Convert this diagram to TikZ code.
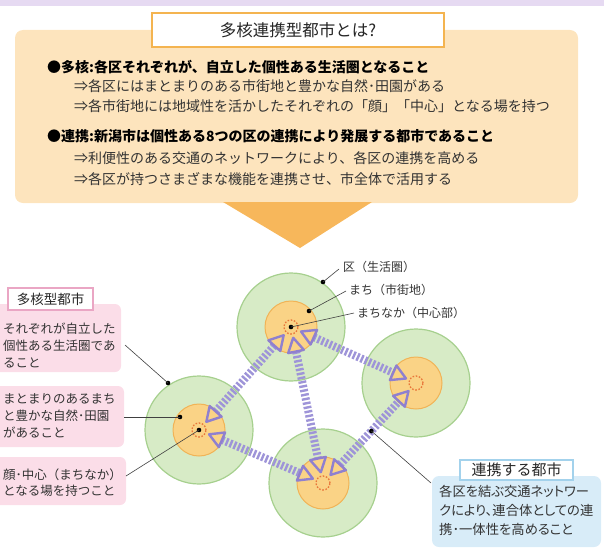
\documentclass[tikz,border=0pt]{standalone}
\usepackage{fontspec}
\setmainfont{Noto Sans CJK JP}
\newfontfamily\paltfont{Noto Sans CJK JP}[RawFeature=+palt]
\usetikzlibrary{calc}
\definecolor{band}{HTML}{E6DAF2}
\definecolor{obox}{HTML}{FDE4BD}
\definecolor{oborder}{HTML}{F4B450}
\definecolor{otri}{HTML}{F7B75B}
\definecolor{gfill}{HTML}{D7EBC6}
\definecolor{gline}{HTML}{A6D08E}
\definecolor{ydisc}{HTML}{FAD386}
\definecolor{yline}{HTML}{F1B356}
\definecolor{ringc}{HTML}{E8763A}
\definecolor{purp}{HTML}{9E94D8}
\definecolor{purpd}{HTML}{8F80CF}
\definecolor{pinkf}{HTML}{FBDDE8}
\definecolor{pinkl}{HTML}{EAA6C4}
\definecolor{bluef}{HTML}{D8ECF8}
\definecolor{bluel}{HTML}{A3D2EC}
\definecolor{txt}{HTML}{333333}
\begin{document}
\begin{tikzpicture}[x=1pt,y=-1pt,
  mline/.style={anchor=west,inner sep=0pt,text=txt,font=\fontsize{14}{16}\selectfont},
  bline/.style={anchor=west,inner sep=0pt,text=black,font=\fontsize{14}{16}\selectfont\bfseries},
  pline/.style={anchor=west,inner sep=0pt,text=txt,font=\fontsize{12.5}{14}\selectfont},
  bluetext/.style={anchor=west,inner sep=0pt,text=txt,font=\paltfont\fontsize{13.3}{15}\selectfont},
  cline/.style={anchor=west,inner sep=0pt,text=txt,font=\fontsize{12}{14}\selectfont},
  hatch/.style={purp,line width=8pt,dash pattern=on 2.4pt off 1.9pt},
  tri/.style={purpd,line width=2.4pt,line join=round},
  lead/.style={draw=black!75,line width=0.6pt},
  dotc/.style={fill=black}
]
\useasboundingbox (0,0) rectangle (604,551);
% top band
\fill[band] (0,0) rectangle (604,6);
% orange box
\fill[obox,rounded corners=8pt] (15,30) rectangle (578,203);
\fill[otri] (223,202) -- (372,202) -- (300,248) -- cycle;
\node[draw=oborder,fill=white,line width=1.5pt,minimum width=292pt,minimum height=34pt,inner sep=0pt,
  font=\fontsize{16.5}{18}\selectfont,text=black!85] (title) at (298,30) {多核連携型都市とは?};
\node[bline] (l1) at (47,67) {●多核:各区それぞれが、自立した個性ある生活圏となること};
\node[mline] (l2) at (74,86) {⇒各区にはまとまりのある市街地と豊かな自然･田園がある};
\node[mline] (l3) at (74,106) {⇒各市街地には地域性を活かしたそれぞれの「顔」「中心」となる場を持つ};
\node[bline] (l4) at (47,136) {●連携:新潟市は個性ある8つの区の連携により発展する都市であること};
\node[mline] (l5) at (74,158) {⇒利便性のある交通のネットワークにより、各区の連携を高める};
\node[mline] (l6) at (74,179) {⇒各区が持つさまざまな機能を連携させ、市全体で活用する};

% circles
\coordinate (A) at (291,327);
\coordinate (B) at (199,430);
\coordinate (C) at (323,483);
\coordinate (D) at (416,383);
\foreach \c in {A,B,C,D}{
  \filldraw[fill=gfill,draw=gline,line width=1.2pt] (\c) circle[radius=54pt];
  \filldraw[fill=ydisc,draw=yline,line width=1pt] (\c) circle[radius=26pt];
  \draw[ringc,line width=1.3pt,dash pattern=on 1.6pt off 1.6pt] (\c) circle[radius=7pt];
}
% network
\foreach \p/\q in {A/B,A/C,A/D,B/C,C/D}
  \draw[hatch] ($(\p)!25pt!(\q)$) -- ($(\q)!25pt!(\p)$);
\foreach \p/\q in {A/B,B/A,A/C,C/A,A/D,D/A,B/C,C/B,C/D,D/C}{
  \coordinate (t) at ($(\p)!11pt!(\q)$);
  \coordinate (m) at ($(\p)!25pt!(\q)$);
  \draw[tri] (t) -- ($(m)!8pt!90:(t)$) -- ($(m)!8pt!-90:(t)$) -- cycle;
}
% dots
\coordinate (dKu) at (323,282);
\coordinate (dMachi) at (309,311);
\coordinate (dB1) at (168,383);
\coordinate (dB2) at (180,417);
\coordinate (dNet) at ($(C)!0.52!(D)$);
\foreach \d in {A,B,dKu,dMachi,dB1,dB2,dNet}
  \fill[dotc] (\d) circle[radius=2.3pt];

% circle labels
\node[cline] (lKu) at (343,267) {区（生活圏）};
\node[cline] (lMachi) at (349,290) {まち（市街地）};
\node[cline] (lNaka) at (357,313) {まちなか（中心部）};
\draw[lead] (dKu) -- ($(lKu.west)+(-4,2)$);
\draw[lead] (dMachi) -- ($(lMachi.west)+(-3,1)$);
\draw[lead] (A) -- ($(lNaka.west)+(-3,0)$);

% pink boxes
\fill[pinkf,rounded corners=6pt] (-10,304) rectangle (121,372);
\fill[pinkf,rounded corners=6pt] (-10,386) rectangle (124,447);
\fill[pinkf,rounded corners=6pt] (-10,457) rectangle (126,505);
\node[draw=pinkl,fill=white,line width=1.2pt,minimum width=85pt,minimum height=22pt,inner sep=0pt,
  font=\fontsize{13.5}{15}\selectfont,text=black!85] (ptitle) at (50.5,299) {多核型都市};
\node[pline] (p1a) at (3,329) {それぞれが自立した};
\node[pline] (p1b) at (3,346) {個性ある生活圏であ};
\node[pline] (p1c) at (3,363) {ること};
\node[pline] (p2a) at (3,399) {まとまりのあるまち};
\node[pline] (p2b) at (3,416) {と豊かな自然･田園};
\node[pline] (p2c) at (3,433) {があること};
\node[pline] (p3a) at (3,475) {顔･中心（まちなか）};
\node[pline] (p3b) at (3,491) {となる場を持つこと};
\coordinate (e1) at (125,345);
\coordinate (e2) at (124,417);
\coordinate (e3) at (126,476);
\draw[lead] (e1) -- (dB1);
\draw[lead] (e2) -- (dB2);
\draw[lead] (e3) -- (B);

% blue box
\fill[bluef,rounded corners=7pt] (432,476) rectangle (601,547);
\node[draw=bluel,fill=white,line width=1.2pt,minimum width=113pt,minimum height=20pt,inner sep=0pt,
  font=\fontsize{15}{17}\selectfont,text=black!85] (btitle) at (516.5,470) {連携する都市};
\node[bluetext] (b1) at (439,491) {各区を結ぶ交通ネットワー};
\node[bluetext] (b2) at (439,510) {クにより、連合体としての連};
\node[bluetext] (b3) at (439,529) {携･一体性を高めること};
\coordinate (e4) at (431,483);
\draw[lead] (dNet) -- (e4);
\end{tikzpicture}
\end{document}
